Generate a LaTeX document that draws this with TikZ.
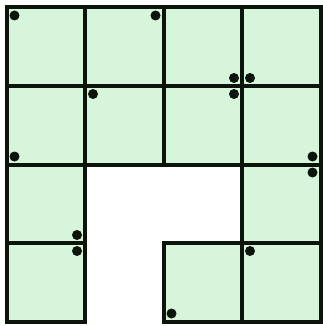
\documentclass[tikz,border=0pt]{standalone}
\usetikzlibrary{positioning}
\definecolor{cellgreen}{RGB}{214,245,218}
\definecolor{gridline}{RGB}{12,20,12}
\tikzset{
  cell/.style={rectangle, draw=gridline, line width=4pt, fill=cellgreen, minimum size=78.5pt, inner sep=0pt, outer sep=0pt},
  dot/.style={circle, fill=gridline, inner sep=0pt, minimum size=10pt}
}
\begin{document}
\begin{tikzpicture}[x=1pt, y=1pt, node distance=78.5pt]
    \useasboundingbox (0,0) rectangle (323,-326);
    % cells, row by row
    \node (c11) [cell] at (45.75,-46.75) {};
    \node (c12) [cell, right of=c11] {};
    \node (c13) [cell, right of=c12] {};
    \node (c14) [cell, right of=c13] {};
    \node (c21) [cell, below of=c11] {};
    \node (c22) [cell, right of=c21] {};
    \node (c23) [cell, right of=c22] {};
    \node (c24) [cell, right of=c23] {};
    \node (c31) [cell, below of=c21] {};
    \node (c34) [cell, below of=c24] {};
    \node (c41) [cell, below of=c31] {};
    \node (c43) [cell, right of=c41, node distance=157pt] {};
    \node (c44) [cell, below of=c34] {};

    % dots in the corners
    \node (d1) [dot] at ([shift={(8,-8)}]c11.north west) {};
    \node (d2) [dot] at ([shift={(-8,-8)}]c12.north east) {};
    \node (d3) [dot] at ([shift={(-8,8)}]c13.south east) {};
    \node (d4) [dot] at ([shift={(8,8)}]c14.south west) {};
    \node (d5) [dot] at ([shift={(8,8)}]c21.south west) {};
    \node (d6) [dot] at ([shift={(8,-8)}]c22.north west) {};
    \node (d7) [dot] at ([shift={(-8,-8)}]c23.north east) {};
    \node (d8) [dot] at ([shift={(-8,8)}]c24.south east) {};
    \node (d9) [dot] at ([shift={(-8,8)}]c31.south east) {};
    \node (d10) [dot] at ([shift={(-8,-8)}]c34.north east) {};
    \node (d11) [dot] at ([shift={(-8,-8)}]c41.north east) {};
    \node (d12) [dot] at ([shift={(8,8)}]c43.south west) {};
    \node (d13) [dot] at ([shift={(8,-8)}]c44.north west) {};
\end{tikzpicture}
\end{document}
